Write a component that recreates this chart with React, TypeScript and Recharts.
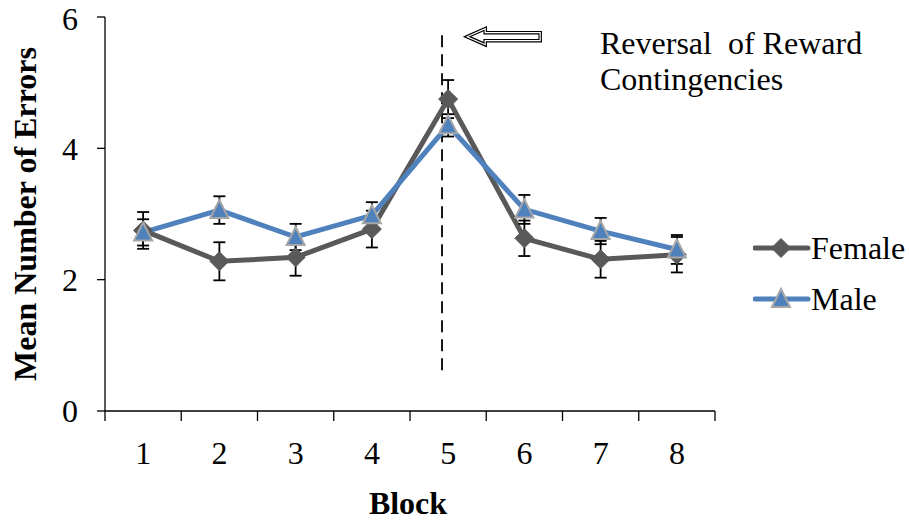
import React from 'react'
import { LineChart, Line, XAxis, YAxis, ErrorBar, ReferenceLine, ReferenceDot } from 'recharts'

// block numbers and group means (+/- SEM)
const blocks = [1, 2, 3, 4, 5, 6, 7, 8]
const femaleMeans = [2.75, 2.28, 2.34, 2.77, 4.75, 2.63, 2.31, 2.38]
const femaleErr = [0.28, 0.29, 0.28, 0.28, 0.29, 0.27, 0.28, 0.27]
const maleMeans = [2.72, 3.06, 2.65, 2.98, 4.35, 3.07, 2.74, 2.46]
const maleErr = [0.2, 0.21, 0.2, 0.2, 0.17, 0.22, 0.2, 0.22]
const yTicks = [0, 2, 4, 6]
const xTicks = [0.5, 1.5, 2.5, 3.5, 4.5, 5.5, 6.5, 7.5, 8.5]

const data = blocks.map((b, i) => ({
  block: b,
  female: femaleMeans[i],
  femaleErr: femaleErr[i],
  male: maleMeans[i],
  maleErr: maleErr[i],
}))

const FONT = 'Liberation Serif'
const FS = 32
const GRAY = '#595959'
const BLUE = '#4F81BD'
const BAND = 76.25

const Diamond = (props: any) => {
  const { cx, cy } = props
  if (cx == null || cy == null) return null
  const r = 9.5
  return <path d={`M${cx},${cy - r}L${cx + r},${cy}L${cx},${cy + r}L${cx - r},${cy}Z`} fill={GRAY} stroke={GRAY} />
}

const Triangle = (props: any) => {
  const { cx, cy } = props
  if (cx == null || cy == null) return null
  return (
    <path
      d={`M${cx},${cy - 10}L${cx + 9},${cy + 8}L${cx - 9},${cy + 8}Z`}
      fill={BLUE}
      stroke="#A6A6A6"
      strokeWidth={2}
    />
  )
}

// excel-style: tick marks between categories, labels in the middle of each band
const XTick = (props: any) => {
  const { x, y, payload } = props
  if (payload.value > 8) return null
  return (
    <text x={x + BAND / 2} y={y} dy="0.71em" textAnchor="middle" style={{ fontFamily: FONT }} fontSize={FS} fill="#000">
      {payload.value + 0.5}
    </text>
  )
}

const Arrow = (props: any) => {
  const { cx, cy } = props
  const d = `M${cx},${cy}L${cx + 18},${cy - 8}L${cx + 18},${cy - 4}L${cx + 73},${cy - 4}L${cx + 73},${cy + 4}L${cx + 18},${cy + 4}L${cx + 18},${cy + 8}Z`
  return (
    <g>
      <path d={d} fill="#fff" stroke="#000" strokeWidth={3.5} />
      <path d={d} fill="none" stroke="#fff" strokeWidth={1.2} />
    </g>
  )
}

const legendItems = [
  { name: 'Female', color: GRAY, Marker: Diamond },
  { name: 'Male', color: BLUE, Marker: Triangle },
]

export default function App() {
  return (
    <div style={{ position: 'absolute', left: 0, top: 0, width: 909, height: 525, background: '#fff', fontFamily: FONT }}>
      <LineChart width={909} height={525} data={data} margin={{ top: 17, right: 194, bottom: 0, left: 0 }}>
        <XAxis
          dataKey="block"
          type="number"
          domain={[0.5, 8.5]}
          ticks={xTicks}
          interval={0}
          height={114}
          stroke="#000"
          strokeWidth={1.3}
          tickSize={10}
          tickMargin={20}
          tick={<XTick />}
          label={{
            content: (p: any) => {
              const vb = p.viewBox
              return (
                <text x={vb.x + vb.width / 2 - 2} y={514} textAnchor="middle" style={{ fontFamily: FONT }} fontSize={FS} fontWeight="bold">
                  Block
                </text>
              )
            },
          }}
        />
        <YAxis
          domain={[0, 6]}
          ticks={yTicks}
          width={105}
          stroke="#000"
          strokeWidth={1.3}
          tickSize={8}
          tickMargin={19}
          tick={{ fontSize: FS, fill: '#000', style: { fontFamily: FONT } }}
          label={{
            content: (p: any) => {
              const vb = p.viewBox
              const cy = vb.y + vb.height / 2
              return (
                <text
                  x={25}
                  y={cy}
                  transform={`rotate(-90 25 ${cy})`}
                  textAnchor="middle"
                  dominantBaseline="central"
                  style={{ fontFamily: FONT }}
                  fontSize={FS}
                  fontWeight="bold"
                >
                  Mean Number of Errors
                </text>
              )
            },
          }}
        />
        <ReferenceLine
          segment={[
            { x: 4.92, y: 0.62 },
            { x: 4.92, y: 5.73 },
          ]}
          stroke="#000"
          strokeWidth={1.8}
          strokeDasharray="12 7"
        />
        <ReferenceDot x={5.25} y={5.7} r={0} shape={<Arrow />} />
        <Line
          dataKey="female"
          name="Female"
          stroke={GRAY}
          strokeWidth={5}
          dot={<Diamond />}
          activeDot={false}
          isAnimationActive={false}
        >
          <ErrorBar dataKey="femaleErr" direction="y" width={6} stroke="#000" strokeWidth={1.8} />
        </Line>
        <Line
          dataKey="male"
          name="Male"
          stroke={BLUE}
          strokeWidth={5}
          dot={<Triangle />}
          activeDot={false}
          isAnimationActive={false}
        >
          <ErrorBar dataKey="maleErr" direction="y" width={6} stroke="#000" strokeWidth={1.8} />
        </Line>
      </LineChart>
      <svg width={160} height={100} style={{ position: 'absolute', left: 753, top: 228 }}>
        {legendItems.map((it, i) => {
          const cy = 20 + i * 51
          return (
            <g key={it.name}>
              <line x1={2} y1={cy} x2={55} y2={cy} stroke={it.color} strokeWidth={5} strokeLinecap="round" />
              <it.Marker cx={28} cy={cy} />
              <text x={58} y={cy} dy="0.35em" style={{ fontFamily: FONT }} fontSize={FS} fill="#000">
                {it.name}
              </text>
            </g>
          )
        })}
      </svg>
      <div
        style={{
          position: 'absolute',
          left: 600,
          top: 25,
          fontSize: FS,
          lineHeight: '36px',
          whiteSpace: 'pre',
          color: '#000',
        }}
      >
        {'Reversal  of Reward\nContingencies'}
      </div>
    </div>
  )
}
